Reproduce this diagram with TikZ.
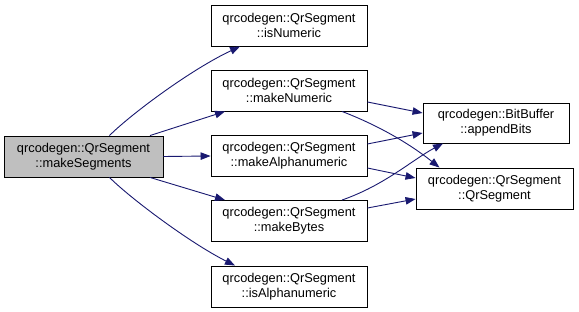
\documentclass[tikz,border=0pt]{standalone}
\usepackage{fontspec}
\setmainfont{Liberation Sans}
\usetikzlibrary{arrows.meta}
\definecolor{edgeblue}{RGB}{25,25,112}
\definecolor{rootgray}{RGB}{191,191,191}
\begin{document}
\begin{tikzpicture}[x=1pt,y=-1pt,
  fn/.style={draw=black,line width=0.9pt,fill=white,align=center,
    minimum height=41pt,inner sep=0pt,
    font=\fontsize{12.8}{15}\selectfont},
  call/.style={draw=edgeblue,line width=0.9pt,
    -{Triangle[length=10pt,width=7.5pt]},fill=none},
]
\useasboundingbox (0,0) rectangle (579,312);

% functions
\node[fn,fill=rootgray,minimum width=159pt] (ms) at (83.5,156.5)
  {qrcodegen::QrSegment\\::makeSegments};
\node[fn,minimum width=156pt] (isnum) at (289,25.5)
  {qrcodegen::QrSegment\\::isNumeric};
\node[fn,minimum width=156pt] (mnum) at (289,90.5)
  {qrcodegen::QrSegment\\::makeNumeric};
\node[fn,minimum width=156pt] (malp) at (289,156)
  {qrcodegen::QrSegment\\::makeAlphanumeric};
\node[fn,minimum width=156pt] (mbyt) at (289,221)
  {qrcodegen::QrSegment\\::makeBytes};
\node[fn,minimum width=156pt] (isalp) at (289,286.5)
  {qrcodegen::QrSegment\\::isAlphanumeric};
\node[fn,minimum width=146pt,minimum height=40pt] (app) at (496,123)
  {qrcodegen::BitBuffer\\::appendBits};
\node[fn,minimum width=157pt] (qrs) at (494.5,188.5)
  {qrcodegen::QrSegment\\::QrSegment};

% calls from makeSegments
\draw[call] ([xshift=26pt]ms.north) .. controls (130,115) and (190,70) .. ([xshift=-49pt]isnum.south);
\draw[call] ([xshift=66.5pt]ms.north) -- ([xshift=-64pt]mnum.south);
\draw[call] (ms.east) -- (malp.west);
\draw[call] ([xshift=66.5pt]ms.south) -- ([xshift=-64pt]mbyt.north);
\draw[call] ([xshift=26pt]ms.south) .. controls (130,198) and (190,243) .. ([xshift=-54pt]isalp.north);

% calls from the make* functions
\draw[call] ([yshift=-11.5pt]mnum.east) -- ([yshift=10pt]app.west);
\draw[call] ([xshift=53pt]mnum.south) .. controls (385,128) and (415,148) .. ([xshift=-55pt]qrs.north);
\draw[call] ([yshift=12pt]malp.east) -- ([yshift=-10pt]app.west);
\draw[call] ([yshift=-12pt]malp.east) -- ([yshift=10.5pt]qrs.west);
\draw[call] ([xshift=53pt]mbyt.north) .. controls (385,185) and (412,160) .. ([xshift=-53pt]app.south);
\draw[call] ([yshift=13pt]mbyt.east) -- ([yshift=-10.5pt]qrs.west);
\end{tikzpicture}
\end{document}
